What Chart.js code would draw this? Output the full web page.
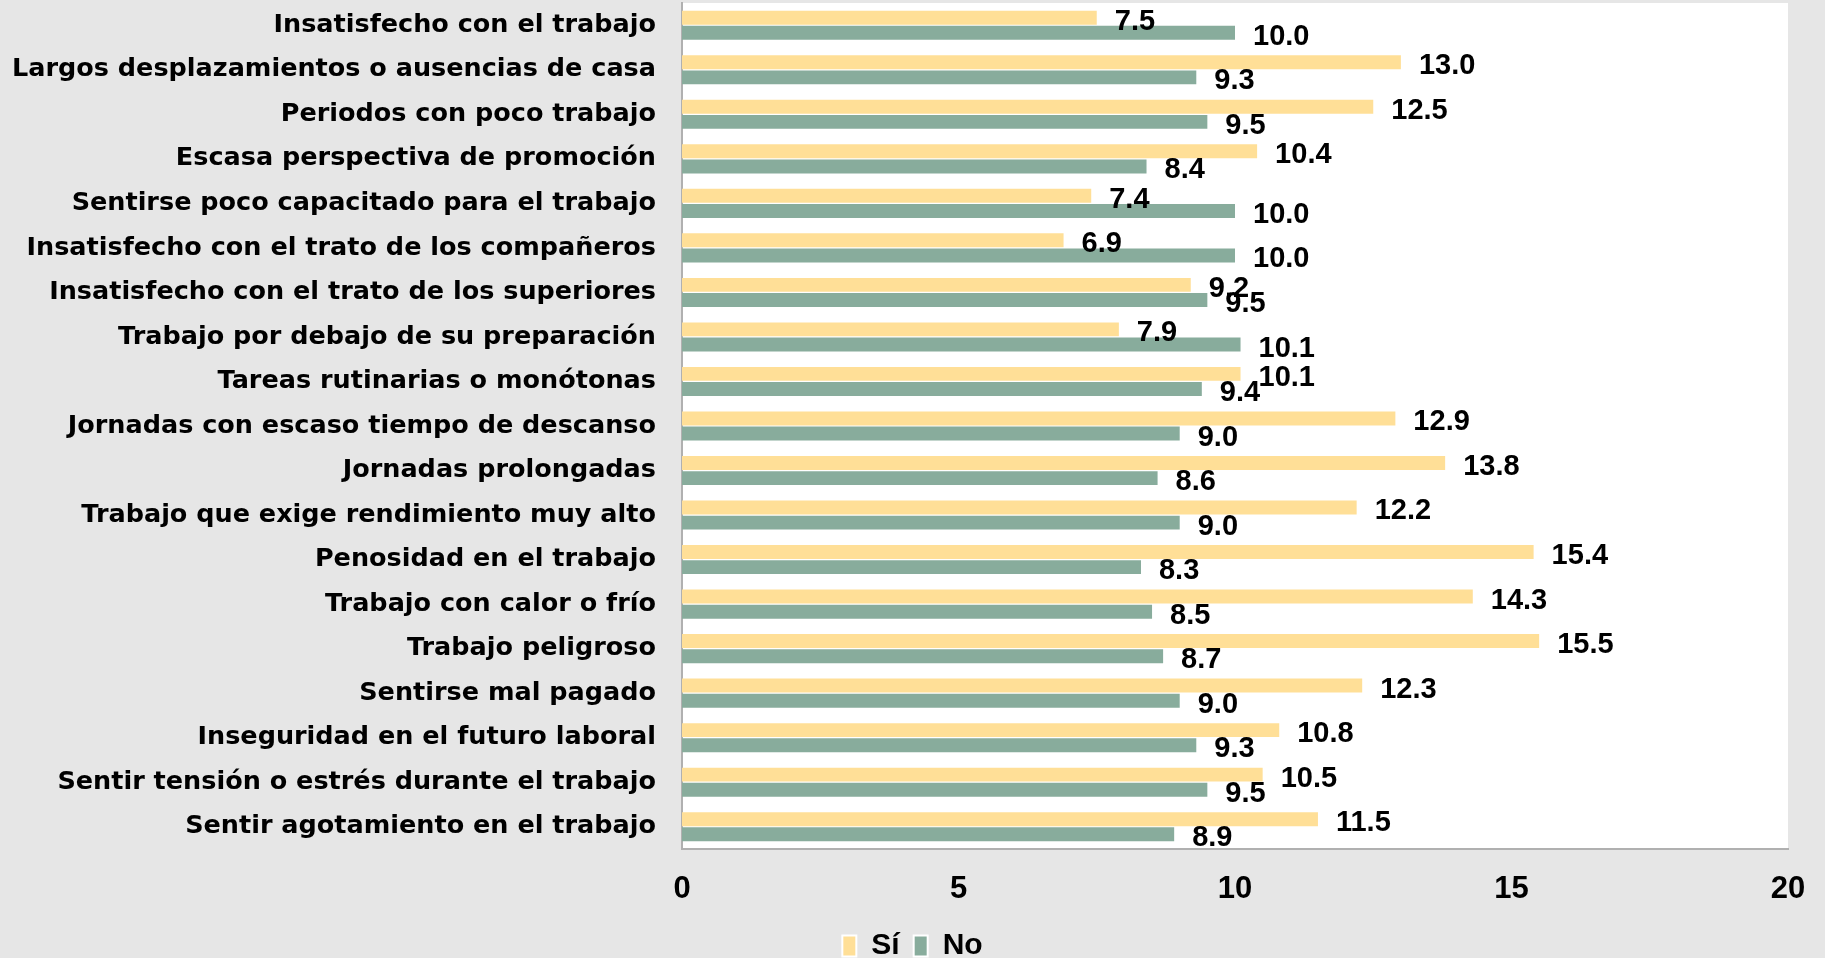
<!DOCTYPE html>
<html>
<head>
<meta charset="utf-8">
<script src="https://cdn.jsdelivr.net/npm/chart.js@4.4.0/dist/chart.umd.min.js"></script>
<style>
  html, body { margin: 0; padding: 0; background: #e6e6e6; }
  #wrap { width: 1825px; height: 958px; }
</style>
</head>
<body>
<div id="wrap"><canvas id="grafico"></canvas></div>
<script>
const categorias = [
  'Insatisfecho con el trabajo',
  'Largos desplazamientos o ausencias de casa',
  'Periodos con poco trabajo',
  'Escasa perspectiva de promoción',
  'Sentirse poco capacitado para el trabajo',
  'Insatisfecho con el trato de los compañeros',
  'Insatisfecho con el trato de los superiores',
  'Trabajo por debajo de su preparación',
  'Tareas rutinarias o monótonas',
  'Jornadas con escaso tiempo de descanso',
  'Jornadas prolongadas',
  'Trabajo que exige rendimiento muy alto',
  'Penosidad en el trabajo',
  'Trabajo con calor o frío',
  'Trabajo peligroso',
  'Sentirse mal pagado',
  'Inseguridad en el futuro laboral',
  'Sentir tensión o estrés durante el trabajo',
  'Sentir agotamiento en el trabajo'
];
const valoresSi = [7.5, 13.0, 12.5, 10.4, 7.4, 6.9, 9.2, 7.9, 10.1, 12.9, 13.8, 12.2, 15.4, 14.3, 15.5, 12.3, 10.8, 10.5, 11.5];
const valoresNo = [10.0, 9.3, 9.5, 8.4, 10.0, 10.0, 9.5, 10.1, 9.4, 9.0, 8.6, 9.0, 8.3, 8.5, 8.7, 9.0, 9.3, 9.5, 8.9];
const ticksX = [0, 5, 10, 15, 20];

const fuenteEtiq = "'DejaVu Sans', sans-serif";
const fuenteNum = "'Liberation Sans', Arial, sans-serif";
const fuenteEje = "'Liberation Sans Narrow', 'Liberation Sans', sans-serif";

// fondo blanco solo en el area del grafico
const fondoArea = {
  id: 'fondoArea',
  beforeDraw(chart) {
    const { ctx, chartArea: a } = chart;
    ctx.save();
    ctx.fillStyle = '#ffffff';
    ctx.fillRect(a.left, a.top, a.right - a.left, a.bottom - a.top);
    ctx.restore();
  }
};

// etiquetas de valor al final de cada barra
const etiquetas = {
  id: 'etiquetas',
  afterDatasetsDraw(chart) {
    const ctx = chart.ctx;
    ctx.save();
    ctx.font = 'bold 29px ' + fuenteNum;
    ctx.fillStyle = '#000';
    ctx.textAlign = 'left';
    ctx.textBaseline = 'middle';
    chart.data.datasets.forEach((ds, i) => {
      chart.getDatasetMeta(i).data.forEach((bar, j) => {
        ctx.fillText(ds.data[j].toFixed(1), bar.x + 18, bar.y + 4);
      });
    });
    ctx.restore();
  }
};

new Chart(document.getElementById('grafico'), {
  type: 'bar',
  data: {
    labels: categorias,
    datasets: [
      { label: 'Sí', data: valoresSi, backgroundColor: '#ffdf97', borderWidth: 0 },
      { label: 'No', data: valoresNo, backgroundColor: '#88ac9c', borderWidth: 0 }
    ]
  },
  options: {
    indexAxis: 'y',
    responsive: true,
    maintainAspectRatio: false,
    animation: false,
    layout: { padding: { top: 3, right: 0, left: 0, bottom: -13 } },
    datasets: {
      bar: { categoryPercentage: 0.68, barPercentage: 0.92 }
    },
    scales: {
      x: {
        min: 0,
        max: 20,
        afterBuildTicks(scale) { scale.ticks = ticksX.map(v => ({ value: v })); },
        grid: { display: false, drawTicks: false },
        border: { display: true, color: '#b0b0b0', width: 2 },
        ticks: { color: '#000', font: { family: fuenteEje, size: 31, weight: 'bold' }, padding: 22 },
        afterFit(scale) {
          scale.height = 68;
          scale.paddingRight = 37;
        }
      },
      y: {
        grid: { display: false, drawTicks: false },
        border: { display: true, color: '#b0b0b0', width: 2 },
        ticks: { color: '#000', font: { family: fuenteEtiq, size: 25.5, weight: 'bold' }, padding: 26 },
        afterFit(scale) {
          scale.width = 682;
          scale.paddingTop = 0;
          scale.paddingBottom = 0;
        }
      }
    },
    plugins: {
      tooltip: { enabled: false },
      legend: {
        position: 'bottom',
        labels: {
          color: '#000',
          font: { family: fuenteNum, size: 30, weight: 'bold' },
          boxWidth: 14,
          boxHeight: 21,
          padding: 14,
          generateLabels(chart) {
            return Chart.defaults.plugins.legend.labels.generateLabels(chart).map(l => {
              l.strokeStyle = '#ffffff';
              l.lineWidth = 2;
              return l;
            });
          }
        }
      }
    }
  },
  plugins: [fondoArea, etiquetas]
});
</script>
</body>
</html>
